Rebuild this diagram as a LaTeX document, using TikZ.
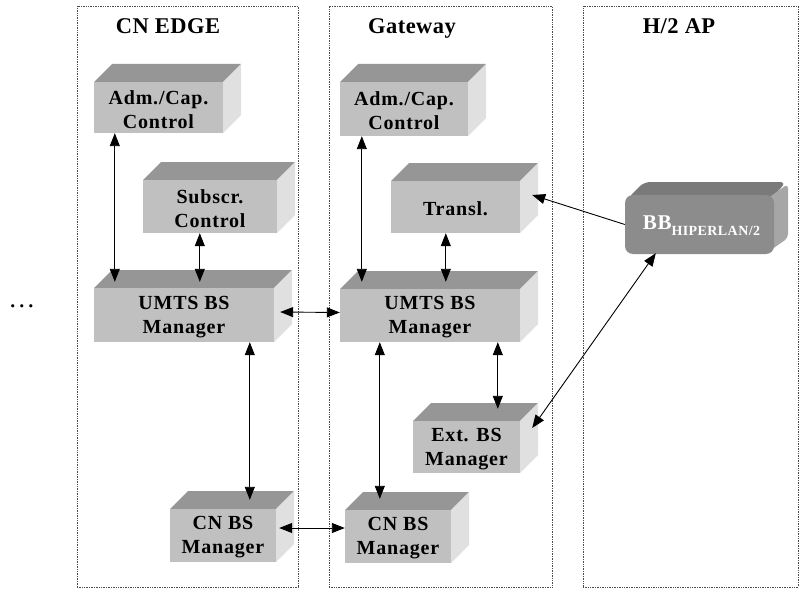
\documentclass[tikz,border=0pt]{standalone}
\usepackage{fontspec}
\setmainfont{Liberation Serif}
\usetikzlibrary{arrows.meta,fit,calc}

\definecolor{facefront}{HTML}{C0C0C0}
\definecolor{facetop}{HTML}{969696}
\definecolor{faceside}{HTML}{E0E0E0}
\definecolor{bbfront}{HTML}{8C8C8C}
\definecolor{bbtop}{HTML}{7A7A7A}
\definecolor{bbside}{HTML}{A6A6A6}

\tikzset{
  >={Triangle[length=13pt,width=10pt]},
  panel/.style={draw=black!70, densely dotted, line width=0.7pt, inner sep=0pt},
  title/.style={font=\fontsize{22.5}{26}\selectfont\bfseries\addfontfeatures{LetterSpace=2}, anchor=base},
  frontface/.style={fill=facefront, inner sep=0pt},
  boxtext/.style={inner sep=0pt, align=center, anchor=center,
    font=\fontsize{20}{24}\selectfont\bfseries\addfontfeatures{LetterSpace=4}},
  dbl/.style={line width=0.9pt, <->},
  one/.style={line width=0.9pt, ->},
}

% block with front face from (#2,#3) to (#4,#5), top and right faces behind it
\newcommand\blockbox[6]{%
  \fill[facetop] (#2,#3) -- (#2+18,#3-18) -- (#4+18,#3-18) -- (#4,#3) -- cycle;
  \fill[faceside] (#4,#3) -- (#4+18,#3-18) -- (#4+18,#5-18) -- (#4,#5) -- cycle;
  \node[frontface, fit={(#2,#3) (#4,#5)}] (#1) {};
  \node[boxtext] (#1-t) at ([yshift=-2pt]#1.center) {#6};
}

\begin{document}
\begin{tikzpicture}[x=1pt, y=-1pt]
  \useasboundingbox (0,0) rectangle (799,588);

  % domains
  \node[panel, fit={(77,6) (298,587)}] (pcn) {};
  \node[panel, fit={(329,6) (552,587)}] (pgw) {};
  \node[panel, fit={(583,6) (798,587)}] (pap) {};
  \node[title] (tcn) at (168,34) {CN EDGE};
  \node[title] (tgw) at (412,34) {Gateway};
  \node[title] (tap) at (679,34) {H/2 AP};
  \node[font=\fontsize{27}{30}\selectfont] (more) at (22,306) {…};

  % CN EDGE blocks
  \blockbox{adm1}{94}{82}{223}{133}{Adm./Cap.\\Control}
  \blockbox{sub1}{143}{180}{277}{233}{Subscr.\\Control}
  \blockbox{umts1}{94}{288}{274}{342}{UMTS BS\\Manager}
  \blockbox{cnbs1}{170}{509}{276}{562}{CN BS\\Manager}

  % Gateway blocks
  \blockbox{adm2}{340}{82}{468}{136}{Adm./Cap.\\Control}
  \blockbox{transl}{391}{181}{520}{233}{Transl.}
  \blockbox{umts2}{340}{289}{520}{342}{UMTS BS\\Manager}
  \blockbox{ext}{413}{421}{520}{473}{Ext. BS\\Manager}
  \blockbox{cnbs2}{345}{510}{451}{563}{CN BS\\Manager}

  % H/2 AP block
  \fill[bbtop, rounded corners=6pt] (628,198) -- (644,182) -- (786,182) -- (772,198) -- cycle;
  \fill[bbside, rounded corners=4pt] (768,198) -- (788,184) -- (788,238) -- (768,252) -- cycle;
  \node[fill=bbfront, rounded corners=8pt, inner sep=0pt, fit={(625,195) (774,254)}] (bb) {};
  \node[inner sep=0pt, text=white, font=\bfseries\addfontfeatures{LetterSpace=3}] (bb-t) at ([xshift=2pt,yshift=-1pt]bb.center)
        {\fontsize{21}{24}\selectfont BB\raisebox{-6pt}{\fontsize{14}{16}\selectfont HIPERLAN/2}};

  % connectors
  \draw[dbl] ([xshift=21pt]adm1.south west) -- ([xshift=21pt,yshift=6pt]umts1.north west);
  \draw[dbl] ([xshift=57pt]sub1.south west) -- ([xshift=106pt,yshift=6pt]umts1.north west);
  \draw[dbl] ([xshift=6pt,yshift=3pt]umts1.east) -- ([yshift=3pt]umts2.west);
  \draw[dbl] ([xshift=156pt]umts1.south west) -- ([xshift=80pt,yshift=9pt]cnbs1.north west);
  \draw[dbl] ([xshift=22pt]adm2.south west) -- ([xshift=22pt,yshift=7pt]umts2.north west);
  \draw[dbl] ([xshift=55pt]transl.south west) -- ([xshift=106pt,yshift=7pt]umts2.north west);
  \draw[dbl] ([xshift=40pt]umts2.south west) -- ([xshift=35pt,yshift=11pt]cnbs2.north west);
  \draw[dbl] ([xshift=158pt]umts2.south west) -- ([xshift=85pt,yshift=12pt]ext.north west);
  \draw[dbl] ([xshift=3pt,yshift=7.5pt]cnbs1.east) -- ([yshift=8.5pt]cnbs2.west);
  \draw[one] (bb.west) -- ([xshift=12pt,yshift=12pt]transl.east);
  \draw[dbl] ([xshift=12pt,yshift=19pt]ext.east) -- ([xshift=31pt,yshift=1pt]bb.south west);
\end{tikzpicture}
\end{document}
